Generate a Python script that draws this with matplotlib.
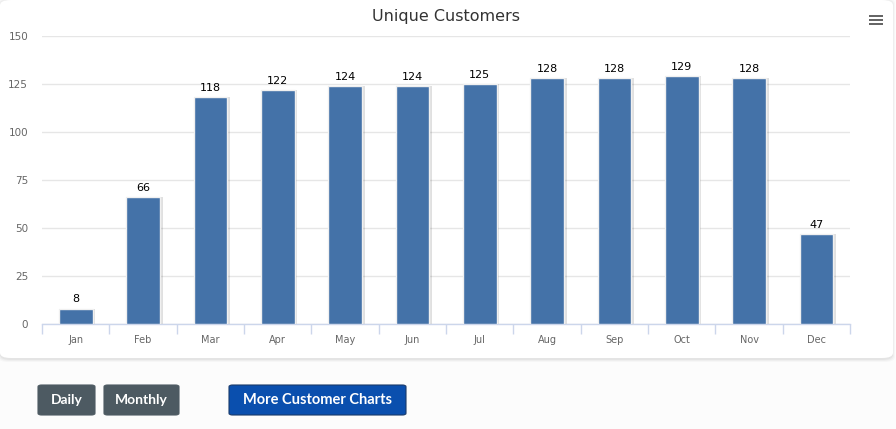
import matplotlib
matplotlib.use("Agg")
import matplotlib.pyplot as plt
from matplotlib.patches import FancyBboxPatch, Rectangle
import numpy as np

months = ["Jan", "Feb", "Mar", "Apr", "May", "Jun", "Jul", "Aug", "Sep", "Oct", "Nov", "Dec"]
customers = [8, 66, 118, 122, 124, 124, 125, 128, 128, 129, 128, 47]
yticks = [0, 25, 50, 75, 100, 125, 150]
title = "Unique Customers"
buttons = ["Daily", "Monthly", "More Customer Charts"]

W, H = 896, 429
fig = plt.figure(figsize=(W / 100, H / 100), dpi=100)
fig.patch.set_facecolor("#fcfcfc")

def fx(px):
    return px / W

def fy(py):
    return 1 - py / H

# card shadow + card
for i, a in enumerate([0.025, 0.03, 0.04]):
    off = 3 - i
    sh = FancyBboxPatch((fx(0 - off + 1), fy(358 + off + 1)), fx(893 + 2 * off - 2), (358 + 2 * off) / H,
                        boxstyle="round,pad=0,rounding_size=0.012", transform=fig.transFigure,
                        facecolor="black", edgecolor="none", alpha=a, zorder=0)
    fig.patches.append(sh)
card = FancyBboxPatch((fx(0), fy(358)), fx(893), 358 / H,
                      boxstyle="round,pad=0,rounding_size=0.012", transform=fig.transFigure,
                      facecolor="white", edgecolor="none", zorder=0.5)
fig.patches.append(card)

ax = fig.add_axes([fx(42), fy(324), fx(850) - fx(42), (324 - 36) / H])
ax.set_zorder(2)
ax.set_facecolor("none")
x = np.arange(len(months))
# bar shadow
ax.bar(x + 0.04, customers, width=0.5, color="#000000", alpha=0.12, zorder=2)
bars = ax.bar(x, customers, width=0.5, color="#4472a8", edgecolor="#f0f0f0", linewidth=1.0, zorder=3)
for xi, v in zip(x, customers):
    ax.annotate(str(v), (xi, v), xytext=(0, 3), textcoords="offset points",
                ha="center", va="bottom", fontsize=8, color="black", zorder=5)

ax.set_xlim(-0.5, len(months) - 0.5)
ax.set_ylim(0, 150)
ax.set_yticks(yticks)
ax.set_yticklabels([str(t) for t in yticks], fontsize=7.5, color="#666666")
ax.yaxis.grid(True, color="#e6e6e6", linewidth=1, zorder=0)
ax.set_axisbelow(True)
ax.tick_params(axis="y", length=0, pad=10)

ax.set_xticks(x)
ax.set_xticklabels(months, fontsize=7, color="#666666")
ax.tick_params(axis="x", length=0, pad=8)
ax.set_xticks(np.arange(-0.5, len(months) + 0.5, 1), minor=True)
ax.tick_params(axis="x", which="minor", length=7, color="#ccd6eb", width=1)
for s in ["top", "right", "left"]:
    ax.spines[s].set_visible(False)
ax.spines["bottom"].set_color("#ccd6eb")
ax.spines["bottom"].set_linewidth(1)

fig.text(fx(446), fy(16), title, ha="center", va="center", fontsize=11.5, color="#333333",
         family="DejaVu Sans", zorder=4)

# menu icon
for dy in (-4, 0, 4):
    fig.patches.append(Rectangle((fx(869), fy(20 + dy) - 1.2 / H), fx(14), 2.6 / H,
                                 transform=fig.transFigure, facecolor="#666666", edgecolor="none", zorder=5))

# buttons
btn_specs = [(38, 95, "#4d5a62", "#4d5a62"), (104, 179, "#4d5a62", "#4d5a62"), (229, 406, "#0a4fae", "#1a3a6a")]
for (x0, x1, fc, ec), label in zip(btn_specs, buttons):
    y0, y1 = 385, 415
    p = FancyBboxPatch((fx(x0), fy(y1)), fx(x1 - x0), (y1 - y0) / H,
                       boxstyle="round,pad=0,rounding_size=0.004", transform=fig.transFigure,
                       facecolor=fc, edgecolor=ec, linewidth=0.8, zorder=3)
    fig.patches.append(p)
    fig.text(fx((x0 + x1) / 2), fy((y0 + y1) / 2), label, ha="center", va="center",
             fontsize=10.5 if len(label) > 10 else 10, color="white", fontweight="bold",
             family="Lato", zorder=4)

fig.savefig("out.png", dpi=100, facecolor=fig.get_facecolor())
